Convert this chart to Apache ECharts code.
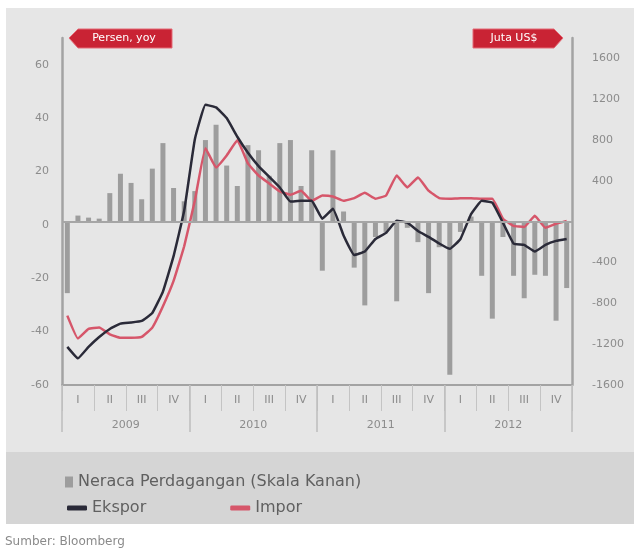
<!DOCTYPE html>
<html>
<head>
<meta charset="utf-8">
<script src="https://cdn.jsdelivr.net/npm/echarts@6/dist/echarts.min.js"></script>
<style>
  html, body { margin: 0; padding: 0; background: #ffffff; }
  #chart { width: 640px; height: 553px; }
</style>
</head>
<body>
<div id="chart"></div>
<script>
// Monthly series, Jan 2009 – Dec 2012
const years = ['2009', '2010', '2011', '2012'];
const quarterNames = ['I', 'II', 'III', 'IV'];
const months = [];
years.forEach(y => { for (let m = 1; m <= 12; m++) months.push(y + '-' + (m < 10 ? '0' + m : m)); });
const quarters = [];
years.forEach(() => quarterNames.forEach(q => quarters.push(q)));

// Export growth, % yoy (left axis)
const ekspor = [
  -45.7, -50, -45.7, -42, -39, -37, -36.6, -36, -33, -25, -11.7, 5.3,
  32, 45, 44, 40, 33, 27, 22, 18, 14, 8.7, 9, 9,
  2.3, 6, -4, -11.3, -10, -5.3, -3, 1.5, 0.8, -2.3, -4.5, -7,
  -9, -5.3, 4, 9, 8.3, 0.8, -7, -7.5, -10, -7.5, -6, -5.3
];
// Import growth, % yoy (left axis)
const impor = [
  -34, -42.6, -39, -38.5, -41, -42.3, -42.3, -42, -38.5, -30.5, -21, -8,
  9, 28.7, 21.5, 26, 31.7, 23, 18.5, 15.5, 12.5, 11.3, 12.8, 9,
  11, 10.6, 9, 10, 12, 9.8, 11, 18.5, 14, 17.7, 12.8, 10,
  9.8, 10, 10, 9.8, 9.8, 2.3, -0.4, -0.8, 3.4, -1.1, 0.4, 1.5
];
// Trade balance (right axis)
const neraca = [
  -700, 60, 40, 30, 280, 470, 380, 220, 520, 770, 330, 200,
  300, 800, 950, 550, 350, 750, 700, 450, 770, 800, 350, 700,
  -480, 700, 100, -450, -820, -150, -100, -780, -60, -200, -700, -250,
  -1500, -100, 50, -530, -950, -150, -530, -750, -520, -530, -970, -650
];
const leftTicks = { min: -60, max: 70, interval: 20 };
const rightTicks = { min: -1600, max: 1800, interval: 400 };

const axisGray = '#a3a3a3';
const labelGray = '#8c8c8c';
const font = 'DejaVu Sans, Liberation Sans, sans-serif';

const chart = echarts.init(document.getElementById('chart'), null, { renderer: 'canvas' });

chart.setOption({
  backgroundColor: '#ffffff',
  animation: false,
  textStyle: { fontFamily: font },
  grid: { left: 62, right: 68, top: 38, bottom: 168 },
  graphic: [
    { type: 'rect', z: -10, shape: { x: 6, y: 8, width: 628, height: 444 }, style: { fill: '#e6e6e6' } },
    { type: 'rect', z: -10, shape: { x: 6, y: 452, width: 628, height: 72 }, style: { fill: '#d5d5d5' } },
    { type: 'polygon', z: 10,
      shape: { points: [[69, 38], [78, 29], [172, 29], [172, 48], [78, 48]] },
      style: { fill: '#c92334', stroke: '#e46a76', lineWidth: 1 } },
    { type: 'text', z: 11, x: 124, y: 38,
      style: { text: 'Persen, yoy', fill: '#ffffff', font: '11px ' + font, align: 'center', verticalAlign: 'middle' } },
    { type: 'polygon', z: 10,
      shape: { points: [[473, 29], [554, 29], [563, 38], [554, 48], [473, 48]] },
      style: { fill: '#c92334', stroke: '#e46a76', lineWidth: 1 } },
    { type: 'text', z: 11, x: 514, y: 38,
      style: { text: 'Juta US$', fill: '#ffffff', font: '11px ' + font, align: 'center', verticalAlign: 'middle' } },
    { type: 'text', x: 5, y: 536,
      style: { text: 'Sumber: Bloomberg', fill: '#8a8a8a', font: '12px ' + font } }
  ],
  legend: [
    {
      left: 60, top: 469, itemGap: 8,
      textStyle: { color: '#606060', fontSize: 16, fontFamily: font },
      data: [{ name: 'Neraca Perdagangan (Skala Kanan)', icon: 'rect' }],
      itemWidth: 8, itemHeight: 11
    },
    {
      left: 62, top: 495, itemGap: 84,
      textStyle: { color: '#606060', fontSize: 16, fontFamily: font },
      data: [{ name: 'Ekspor', icon: 'roundRect' }, { name: 'Impor', icon: 'roundRect' }],
      itemWidth: 20, itemHeight: 5
    }
  ],
  xAxis: [
    {
      type: 'category', data: months, position: 'bottom',
      axisLine: { onZero: false, lineStyle: { color: axisGray, width: 2 } },
      axisTick: { show: false }, axisLabel: { show: false }, splitLine: { show: false }
    },
    {
      type: 'category', data: quarters, position: 'bottom',
      axisLine: { show: false, onZero: false },
      axisTick: { show: true, length: 26, lineStyle: { color: '#c4c4c4', width: 1 } },
      axisLabel: { color: labelGray, fontSize: 11, margin: 10, interval: 0 }
    },
    {
      type: 'category', data: years, position: 'bottom',
      axisLine: { show: false, onZero: false },
      axisTick: { show: true, length: 47, lineStyle: { color: '#bdbdbd', width: 1.5 } },
      axisLabel: { color: labelGray, fontSize: 11, margin: 35 }
    }
  ],
  yAxis: [
    {
      type: 'value', position: 'left',
      min: leftTicks.min, max: leftTicks.max, interval: leftTicks.interval,
      axisLine: { show: true, lineStyle: { color: axisGray, width: 2.5 } },
      axisTick: { show: false }, splitLine: { show: false },
      axisLabel: { color: labelGray, fontSize: 11, margin: 13, showMaxLabel: false }
    },
    {
      type: 'value', position: 'right',
      min: rightTicks.min, max: rightTicks.max, interval: rightTicks.interval,
      axisLine: { show: true, lineStyle: { color: axisGray, width: 2.5 } },
      axisTick: { show: false }, splitLine: { show: false },
      axisLabel: {
        color: labelGray, fontSize: 11, margin: 20, showMaxLabel: false,
        formatter: v => (v === 0 ? '' : String(v))
      }
    }
  ],
  series: [
    {
      name: 'Neraca Perdagangan (Skala Kanan)', type: 'bar',
      xAxisIndex: 0, yAxisIndex: 1, data: neraca,
      barWidth: 5, itemStyle: { color: '#9d9d9d' },
      markLine: {
        silent: true, symbol: 'none', label: { show: false },
        lineStyle: { color: '#a6a6a6', width: 2, type: 'solid' },
        data: [{ yAxis: 0 }]
      }
    },
    {
      name: 'Ekspor', type: 'line', xAxisIndex: 0, yAxisIndex: 0,
      data: ekspor, smooth: 0.1, showSymbol: false,
      lineStyle: { color: '#2a2a38', width: 2.5 }, itemStyle: { color: '#2a2a38' }, z: 4
    },
    {
      name: 'Impor', type: 'line', xAxisIndex: 0, yAxisIndex: 0,
      data: impor, smooth: 0.1, showSymbol: false,
      lineStyle: { color: '#d6566a', width: 2.5 }, itemStyle: { color: '#d6566a' }, z: 3
    }
  ]
});
</script>
</body>
</html>
